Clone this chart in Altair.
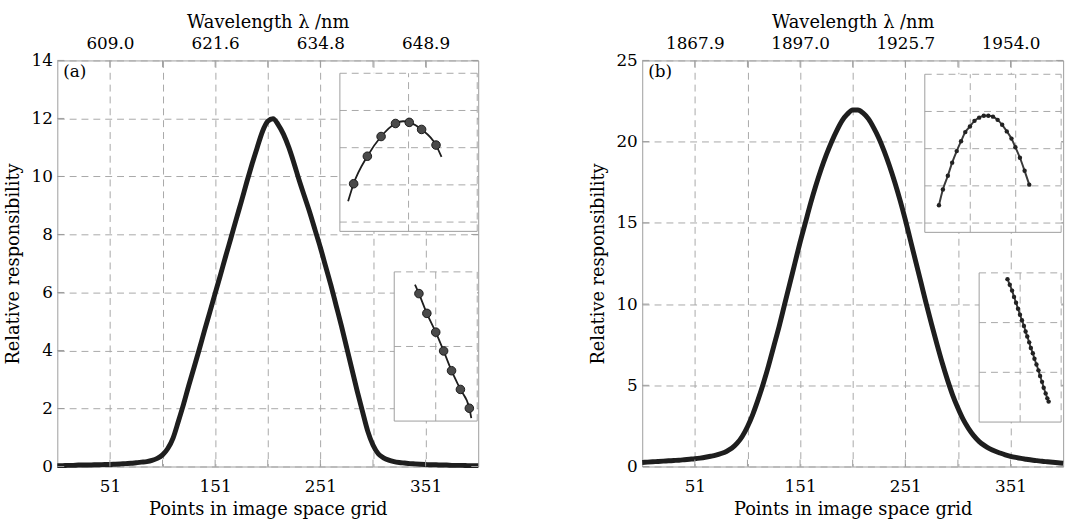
import altair as alt
import pandas as pd

FONT = "DejaVu Serif"
GRID = "#a8a8a8"
FRAME = "#9c9c9c"
INK = "#1e1e1e"
W, H = 426, 411

# ---------------- data ----------------
grid_pts = list(range(1, 402, 5))

resp_a = [0.03, 0.03, 0.04, 0.04, 0.05, 0.05, 0.05, 0.06, 0.06, 0.07,
          0.07, 0.08, 0.09, 0.10, 0.11, 0.13, 0.15, 0.17, 0.21, 0.28,
          0.40, 0.62, 0.98, 1.55, 2.15, 2.80, 3.42, 4.05, 4.70, 5.33,
          5.97, 6.60, 7.25, 7.88, 8.52, 9.15, 9.80, 10.42, 11.00, 11.55,
          11.90, 11.99, 11.78, 11.45, 11.00, 10.45, 9.85, 9.30, 8.75, 8.15,
          7.55, 6.90, 6.25, 5.55, 4.85, 4.10, 3.35, 2.60, 1.90, 1.22,
          0.74, 0.44, 0.30, 0.22, 0.17, 0.14, 0.12, 0.10, 0.09, 0.08,
          0.07, 0.06, 0.06, 0.05, 0.05, 0.04, 0.04, 0.04, 0.03, 0.03, 0.03]

resp_b = [0.25, 0.27, 0.29, 0.31, 0.33, 0.35, 0.37, 0.39, 0.42, 0.45,
          0.48, 0.52, 0.57, 0.63, 0.70, 0.80, 0.93, 1.12, 1.42, 1.85,
          2.45, 3.20, 4.10, 5.10, 6.20, 7.40, 8.60, 9.90, 11.2, 12.5,
          13.8, 15.0, 16.2, 17.3, 18.3, 19.2, 20.0, 20.7, 21.3, 21.7,
          21.95, 21.95, 21.75, 21.4, 20.85, 20.2, 19.4, 18.5, 17.5, 16.4,
          15.2, 13.9, 12.6, 11.3, 10.0, 8.75, 7.55, 6.40, 5.35, 4.40,
          3.60, 2.90, 2.35, 1.90, 1.55, 1.30, 1.10, 0.95, 0.83, 0.72,
          0.63, 0.56, 0.50, 0.45, 0.40, 0.36, 0.32, 0.29, 0.26, 0.23, 0.20]

x_ticks = [51, 101, 151, 201, 251, 301, 351]
x_labelled = [51, 151, 251, 351]
wl_a = ["609.0", "621.6", "634.8", "648.9"]
wl_b = ["1867.9", "1897.0", "1925.7", "1954.0"]

# insets (in inset grid units)
ins_a_top_px = [0.20, 0.40, 0.60, 0.81, 1.01, 1.19, 1.40]
ins_a_top_py = [1.03, 1.77, 2.30, 2.65, 2.68, 2.49, 2.07]
ins_a_top_fx = [0.12, 0.20, 0.40, 0.60, 0.81, 0.92, 1.01, 1.19, 1.40, 1.48]
ins_a_top_fy = [0.56, 1.03, 1.77, 2.30, 2.65, 2.71, 2.68, 2.49, 2.07, 1.75]

ins_a_bot_px = [0.595, 0.786, 1.0, 1.19, 1.381, 1.595, 1.81]
ins_a_bot_py = [1.709, 1.444, 1.192, 0.94, 0.675, 0.424, 0.172]
ins_a_bot_fx = [0.50, 0.595, 0.786, 1.0, 1.19, 1.381, 1.595, 1.81, 1.857]
ins_a_bot_fy = [1.828, 1.709, 1.444, 1.192, 0.94, 0.675, 0.424, 0.172, 0.04]

ins_b_top_px = [0.311, 0.398, 0.507, 0.602, 0.702, 0.798, 0.891, 0.993, 1.093, 1.196,
                1.298, 1.398, 1.5, 1.602, 1.702, 1.804, 1.907, 1.993, 2.093, 2.196, 2.298]
ins_b_top_py = [0.477, 0.901, 1.272, 1.624, 1.934, 2.199, 2.445, 2.596, 2.747, 2.834,
                2.887, 2.887, 2.861, 2.774, 2.641, 2.464, 2.27, 2.04, 1.756, 1.404, 1.033]

ins_b_bot_px = [0.691, 0.747, 0.803, 0.851, 0.900, 0.948, 0.996, 1.044, 1.092, 1.133,
                1.173, 1.221, 1.261, 1.309, 1.349, 1.398, 1.446, 1.486, 1.534, 1.574,
                1.622, 1.663, 1.695]
ins_b_bot_py = [2.874, 2.762, 2.643, 2.517, 2.398, 2.279, 2.159, 2.046, 1.934, 1.821,
                1.722, 1.603, 1.490, 1.384, 1.272, 1.159, 1.040, 0.927, 0.808, 0.689,
                0.576, 0.477, 0.411]


def label_expr(values, labels):
    expr = "''"
    for v, l in zip(reversed(values), reversed(labels)):
        expr = f"datum.value == {v} ? '{l}' : ({expr})"
    return expr


def inset(box, xdom, ydom, xgrid, ygrid, px, py, fx, fy, style):
    x0, x1, y0, y1 = box  # pixel box inside the plot (left, right, top, bottom)
    xs = alt.Scale(domain=xdom, range=[x0, x1], nice=False, zero=False)
    ys = alt.Scale(domain=ydom, range=[y1, y0], nice=False, zero=False)
    X = lambda f: alt.X(f, scale=xs, axis=None)
    Y = lambda f: alt.Y(f, scale=ys, axis=None)

    bg = alt.Chart(pd.DataFrame({"a": [xdom[0]], "b": [xdom[1]], "c": [ydom[0]], "d": [ydom[1]]})).mark_rect(
        fill="white").encode(x=X("a:Q"), x2="b:Q", y=Y("c:Q"), y2="d:Q")
    vg = alt.Chart(pd.DataFrame({"g": xgrid, "lo": ydom[0], "hi": ydom[1]})).mark_rule(
        color=GRID, strokeDash=[7, 5], strokeWidth=1).encode(x=X("g:Q"), y=Y("lo:Q"), y2="hi:Q")
    hg = alt.Chart(pd.DataFrame({"g": ygrid, "lo": xdom[0], "hi": xdom[1]})).mark_rule(
        color=GRID, strokeDash=[7, 5], strokeWidth=1).encode(y=Y("g:Q"), x=X("lo:Q"), x2="hi:Q")
    left = alt.Chart(pd.DataFrame({"g": [xdom[0]], "lo": ydom[0], "hi": ydom[1]})).mark_rule(
        color=FRAME, strokeWidth=1).encode(x=X("g:Q"), y=Y("lo:Q"), y2="hi:Q")
    bottom = alt.Chart(pd.DataFrame({"g": [ydom[0]], "lo": xdom[0], "hi": xdom[1]})).mark_rule(
        color=FRAME, strokeWidth=1).encode(y=Y("g:Q"), x=X("lo:Q"), x2="hi:Q")
    layers = [bg, vg, hg, left, bottom]
    if fx is not None:
        layers.append(alt.Chart(pd.DataFrame({"u": fx, "v": fy})).mark_line(
            color=INK, strokeWidth=1.8, interpolate="monotone").encode(x=X("u:Q"), y=Y("v:Q"), order="u:Q"))
    else:
        layers.append(alt.Chart(pd.DataFrame({"u": px, "v": py})).mark_line(
            color="#3a3a3a", strokeWidth=2, interpolate="monotone").encode(x=X("u:Q"), y=Y("v:Q"), order="u:Q"))
    layers.append(alt.Chart(pd.DataFrame({"u": px, "v": py})).mark_point(
        filled=True, **style).encode(x=X("u:Q"), y=Y("v:Q")))
    return alt.layer(*layers)


def panel(resp, ymax, ystep, wl, tag, insets):
    df = pd.DataFrame({"pt": grid_pts, "r": resp})
    xs = alt.Scale(domain=[1, 401], nice=False, zero=False)
    ys = alt.Scale(domain=[0, ymax], nice=False, zero=False)
    yvals = list(range(0, ymax + 1, ystep))

    x_axis = alt.Axis(values=x_ticks, labelExpr=label_expr(x_labelled, [str(v) for v in x_labelled]),
                      title="Points in image space grid", grid=True, gridDash=[7, 5], gridColor=GRID,
                      ticks=False, domain=False, labelPadding=12, titlePadding=7, labelFlush=False)
    y_axis = alt.Axis(values=yvals, title="Relative responsibility", grid=True, gridDash=[7, 5],
                      gridColor=GRID, ticks=False, domain=False, labelPadding=5, titlePadding=9)

    curve = alt.Chart(df).mark_line(color=INK, strokeWidth=5, interpolate="monotone").encode(
        x=alt.X("pt:Q", scale=xs, axis=x_axis), y=alt.Y("r:Q", scale=ys, axis=y_axis))

    tdf = pd.DataFrame({"pt": x_ticks})
    bt = alt.Chart(tdf).mark_rule(color=FRAME).encode(x=alt.X("pt:Q", scale=xs), y=alt.value(H - 7), y2=alt.value(H))
    ydf = pd.DataFrame({"r": yvals})
    lt = alt.Chart(ydf).mark_rule(color=FRAME).encode(y=alt.Y("r:Q", scale=ys), x=alt.value(0), x2=alt.value(7))
    rt = alt.Chart(ydf).mark_rule(color=FRAME).encode(y=alt.Y("r:Q", scale=ys), x=alt.value(W - 7), x2=alt.value(W))
    main = alt.layer(curve, bt, lt, rt)

    top_axis = alt.Axis(values=x_ticks, labelExpr=label_expr(x_labelled, wl), orient="top",
                        title="Wavelength λ /nm", grid=False, ticks=False, domain=False,
                        labelPadding=8, titlePadding=3, labelFlush=False)
    top = alt.Chart(tdf).mark_rule(color=FRAME).encode(
        x=alt.X("pt:Q", scale=alt.Scale(domain=[1, 401], nice=False, zero=False), axis=top_axis),
        y=alt.value(0), y2=alt.value(7))

    tagc = alt.Chart(pd.DataFrame({"t": [tag]})).mark_text(
        align="left", baseline="middle", fontSize=17, font=FONT, color="black").encode(
        text="t:N", x=alt.value(6), y=alt.value(12))

    return alt.layer(main, top, *insets, tagc).resolve_scale(x="independent", y="independent").properties(
        width=W, height=H)


big = dict(size=75, color="#4a4a4a", stroke="#1a1a1a", strokeWidth=1, opacity=1)
small = dict(size=20, color="#222222", opacity=1)

ins_a = [
    inset((286, 425, 13, 173), [0, 2], [-0.25, 4], [1, 2], [0, 1, 2, 3, 4],
          ins_a_top_px, ins_a_top_py, ins_a_top_fx, ins_a_top_fy, big),
    inset((341, 425, 214, 365), [0, 2], [0, 2], [1, 2], [1, 2],
          ins_a_bot_px, ins_a_bot_py, ins_a_bot_fx, ins_a_bot_fy, big),
]
ins_b = [
    inset((286, 424, 14, 174), [0, 3], [-0.25, 4], [1, 2, 3], [0, 1, 2, 3, 4],
          ins_b_top_px, ins_b_top_py, None, None, small),
    inset((341, 424, 215, 366), [0, 2], [0, 3], [1, 2], [1, 2, 3],
          ins_b_bot_px, ins_b_bot_py, None, None, small),
]

pa = panel(resp_a, 14, 2, wl_a, "(a)", ins_a)
pb = panel(resp_b, 25, 5, wl_b, "(b)", ins_b)

chart = alt.hconcat(pa, pb, spacing=100).properties(
    padding={"left": 3, "top": 10, "right": 0, "bottom": 0}
).configure(font=FONT).configure_axis(
    labelFont=FONT, titleFont=FONT, labelFontSize=17, titleFontSize=18,
    labelColor="black", titleColor="black", titleFontWeight="normal"
).configure_view(stroke=FRAME, strokeWidth=1)

chart.save("out.html", embed_options={"renderer": "svg", "actions": False})
